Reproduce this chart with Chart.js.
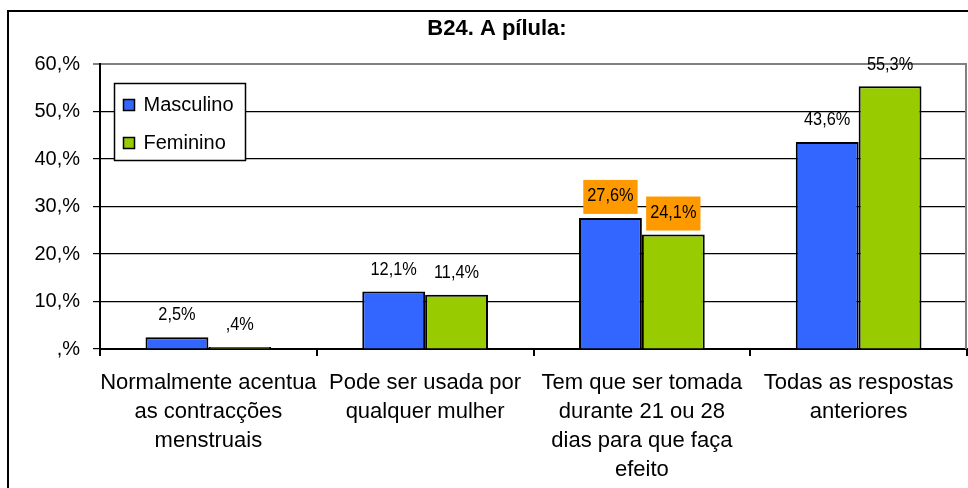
<!DOCTYPE html>
<html>
<head>
<meta charset="utf-8">
<script src="https://cdn.jsdelivr.net/npm/chart.js@4/dist/chart.umd.min.js"></script>
<style>
  body { margin: 0; background: #fff; }
  #wrap { width: 968px; height: 488px; position: relative; }
</style>
</head>
<body>
<div id="wrap"><canvas id="chart" width="968" height="488"></canvas></div>
<script>
const title = "B24. A pílula:";
const categories = [
    ["Normalmente acentua", "as contracções", "menstruais"],
    ["Pode ser usada por", "qualquer mulher"],
    ["Tem que ser tomada", "durante 21 ou 28", "dias para que faça", "efeito"],
    ["Todas as respostas", "anteriores"]
];
const masculino = [2.5, 12.1, 27.6, 43.6];
const feminino = [0.4, 11.4, 24.1, 55.3];
const seriesNames = ["Masculino", "Feminino"];
const seriesColors = ["#3366FF", "#99CC00"];
const yTicks = [0, 10, 20, 30, 40, 50, 60];
const highlighted = [2]; // category whose labels get the orange box

const fontFamily = "'Liberation Sans', Arial, sans-serif";

// "27.6" -> "27,6%", "0.4" -> ",4%"
const fmtValue = (v) => {
    let s = v.toFixed(1).replace(".", ",");
    if (s.startsWith("0,")) s = s.slice(1);
    return s + "%";
};
const fmtTick = (v) => (v === 0 ? "" : String(v)) + ",%";

const frame = {
    id: "frame",
    beforeDraw(chart) {
        const ctx = chart.ctx;
        ctx.save();
        ctx.fillStyle = "#fff";
        ctx.fillRect(0, 0, chart.width, chart.height);
        ctx.strokeStyle = "#000";
        ctx.lineWidth = 2;
        ctx.strokeRect(8, 11, chart.width + 20, chart.height + 20);
        // title, a bit left of the canvas centre like the original
        ctx.fillStyle = "#000";
        ctx.font = "bold 22px " + fontFamily;
        ctx.textAlign = "center";
        ctx.textBaseline = "middle";
        ctx.fillText(title, 497, 29);
        ctx.restore();
    },
    afterDraw(chart) {
        const ctx = chart.ctx;
        const a = chart.chartArea;
        ctx.save();
        ctx.strokeStyle = "#808080";
        ctx.lineWidth = 2;
        ctx.beginPath();
        ctx.moveTo(a.right - 1, a.top);
        ctx.lineTo(a.right - 1, a.bottom);
        ctx.stroke();
        ctx.restore();
    }
};

const valueLabels = {
    id: "valueLabels",
    afterDatasetsDraw(chart) {
        const ctx = chart.ctx;
        const sx = 0.86;
        ctx.save();
        chart.data.datasets.forEach((ds, di) => {
            const meta = chart.getDatasetMeta(di);
            meta.data.forEach((bar, i) => {
                const text = fmtValue(ds.data[i]);
                const cy = bar.y - 22;
                ctx.font = "19px " + fontFamily;
                const w = ctx.measureText(text).width * sx;
                if (highlighted.includes(i)) {
                    ctx.fillStyle = "#FF9900";
                    ctx.fillRect(bar.x - w / 2 - 4, cy - 16, w + 8, 34);
                }
                ctx.fillStyle = "#000";
                ctx.textAlign = "center";
                ctx.textBaseline = "middle";
                ctx.save();
                ctx.translate(bar.x, cy);
                ctx.scale(sx, 1);
                ctx.fillText(text, 0, 0);
                ctx.restore();
            });
        });
        ctx.restore();
    }
};

const boxLegend = {
    id: "boxLegend",
    afterDraw(chart) {
        const ctx = chart.ctx;
        const a = chart.chartArea;
        const x = a.left + 14.5, y = a.top + 19.5;
        ctx.save();
        ctx.fillStyle = "#fff";
        ctx.fillRect(x, y, 131, 77);
        ctx.strokeStyle = "#000";
        ctx.lineWidth = 1.5;
        ctx.strokeRect(x, y, 131, 77);
        ctx.font = "20px " + fontFamily;
        ctx.textBaseline = "middle";
        ctx.textAlign = "left";
        chart.data.datasets.forEach((ds, i) => {
            const cy = y + 22 + i * 38;
            ctx.fillStyle = ds.backgroundColor;
            ctx.fillRect(x + 9, cy - 6, 11, 11);
            ctx.strokeStyle = "#000";
            ctx.lineWidth = 1.5;
            ctx.strokeRect(x + 9, cy - 6, 11, 11);
            ctx.fillStyle = "#000";
            ctx.fillText(ds.label, x + 29, cy);
        });
        ctx.restore();
    }
};

const ctx = document.getElementById("chart").getContext("2d");
new Chart(ctx, {
    type: "bar",
    data: {
        labels: categories,
        datasets: [
            { label: seriesNames[0], data: masculino, backgroundColor: seriesColors[0] },
            { label: seriesNames[1], data: feminino, backgroundColor: seriesColors[1] }
        ]
    },
    options: {
        responsive: false,
        animation: false,
        layout: { padding: { left: 0, right: 1, top: 64, bottom: 0 } },
        datasets: {
            bar: {
                categoryPercentage: 0.58,
                barPercentage: 1,
                borderColor: "#000",
                borderWidth: 2
            }
        },
        plugins: {
            legend: { display: false },
            tooltip: { enabled: false },
            title: { display: false }
        },
        scales: {
            x: {
                offset: true,
                border: { color: "#000", width: 2 },
                grid: {
                    offset: true,
                    drawOnChartArea: false,
                    drawTicks: true,
                    tickLength: 7,
                    color: "#000",
                    lineWidth: 2
                },
                ticks: {
                    color: "#000",
                    padding: 12,
                    maxRotation: 0,
                    autoSkip: false,
                    font: { family: fontFamily, size: 22, lineHeight: 1.32 }
                },
                afterFit(scale) { scale.height = 139; }
            },
            y: {
                min: 0,
                max: 60,
                border: { color: "#000", width: 2 },
                grid: {
                    tickLength: 7,
                    color: (c) => (c.tick && c.tick.value === 60 ? "#808080" : "#000"),
                    lineWidth: (c) => (c.tick && c.tick.value === 60 ? 2 : 1.2)
                },
                afterBuildTicks(scale) {
                    scale.ticks = yTicks.map((v) => ({ value: v }));
                },
                ticks: {
                    color: "#000",
                    padding: 13,
                    font: { family: fontFamily, size: 20 },
                    callback: (v) => fmtTick(v)
                },
                afterFit(scale) { scale.width = 100; }
            }
        }
    },
    plugins: [frame, valueLabels, boxLegend]
});
</script>
</body>
</html>
